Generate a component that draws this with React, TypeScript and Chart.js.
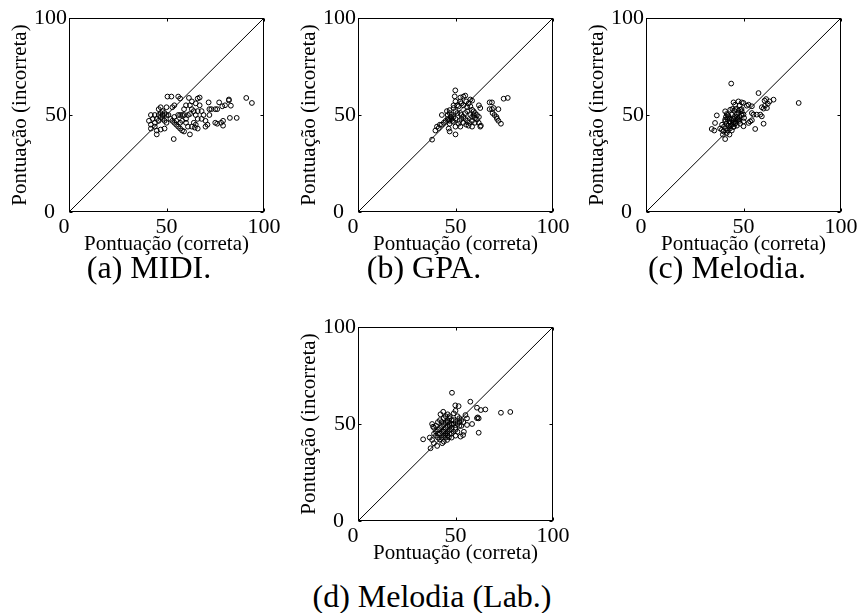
import React, { useEffect, useRef } from "react";
import { Chart, registerables } from "chart.js";

Chart.register(...registerables);

// ---------- data ----------
const axisTicks = [0, 50, 100];
const xTitle = "Pontuação (correta)";
const yTitle = "Pontuação (incorreta)";
const diagonalX = [0, 100];
const diagonalY = [0, 100];

const midiPoints = [
  [42, 50], [44, 50], [46, 50], [48, 50], [50, 50], [41, 47], [42, 45], [43, 48], [44, 46], [45, 48],
  [46, 47], [47, 49], [48, 48], [49, 47], [47, 51], [46, 53], [47, 54], [48, 52], [44, 44], [42, 43],
  [45, 42], [47, 42.5], [49, 43], [50, 46], [49, 51], [51, 50], [50, 54], [45, 40],
  [50.5, 59.5], [52.5, 59.5], [56, 59.5], [57, 58.5], [53, 54], [54, 55], [52, 48], [53, 47], [54, 46],
  [55, 45], [56, 44], [57, 43], [58, 42], [59, 41.5], [53.7, 37.6], [56, 50], [57, 50], [58, 50],
  [59, 50], [60, 48], [61, 50], [62, 50.5], [60, 46], [61, 44], [62, 40], [61.5, 58.8], [62, 55],
  [63, 53], [63, 57], [64, 52], [64, 46], [63, 44], [64.5, 43.5], [66, 43], [66, 48], [66, 52],
  [67, 55], [66, 58.5], [67, 59], [65, 50], [68, 52], [68, 48], [69, 50], [70, 47], [70, 44], [71, 45],
  [71.6, 56.5], [72, 50], [72, 53], [73, 53], [75, 53], [76, 53], [75, 46], [76, 45.5], [78, 46],
  [79, 47], [79, 44.5], [77, 56.5], [78.6, 54.5], [80, 55], [82, 57.5], [82, 58], [83, 54.8],
  [82.5, 48.5], [86, 48.5], [90.9, 58.8], [93.8, 56.2], [57, 46], [58, 47], [55, 47], [54, 49],
  [59, 53], [60, 55], [65, 56], [65, 45],
];

const gpaPoints = [
  [49.9, 62.7], [49.6, 59.6], [52.5, 59], [54, 59.5], [55, 60], [57.6, 58], [58.5, 57.4], [55.5, 57],
  [56.7, 56], [52.5, 57], [53, 56], [50.8, 55], [51.6, 54.5], [54, 55], [56, 54], [57.6, 54.5], [62, 55],
  [62.7, 53.6], [49, 53.6], [50, 52], [45.6, 52], [43, 50], [46, 50], [47, 51], [48, 50], [49, 49],
  [46, 48], [47, 47], [48, 48], [49, 46.5], [47.5, 49], [46.5, 47.5], [48.5, 47], [50, 48], [47, 45.5],
  [52.5, 51], [53, 50], [54, 49], [55, 48], [57.6, 50], [58.5, 49], [59.3, 50], [60, 48.5], [61, 50],
  [61, 47.7], [62, 49], [54, 46], [55.5, 45], [56.7, 44.5], [58.5, 44], [51.6, 45.5], [50, 44],
  [52.5, 44], [50, 40], [47, 41.5], [46.5, 43], [43, 45], [40.5, 44], [41.4, 43.3], [39.7, 42],
  [38, 37.3], [44, 46], [42, 45], [58.5, 47], [60, 46], [61.9, 46], [62.7, 44], [63, 44.5], [67.5, 56.5],
  [68.7, 56.5], [67.5, 53], [68.7, 53], [69.6, 53.6], [72, 53], [69, 51], [70, 50], [71, 49], [71.3, 48],
  [72, 47], [73.3, 45.5], [74.7, 58.4], [76.8, 58.8], [58.5, 52.7], [59.3, 51.9], [60, 51], [56, 52],
  [55, 51], [51, 51], [53, 48], [52, 47], [56, 47], [57, 46], [49, 55], [50, 57], [47, 52.5], [45, 47],
];

const melodiaPoints = [
  [43.7, 66.2], [57.7, 61.3], [61.6, 58.2], [60.8, 57.4], [65.4, 57.9], [63.4, 57], [62.5, 55.8],
  [59.4, 54], [60.3, 53.3], [62, 53.6], [61, 54.8], [58.6, 50.2], [59.4, 49.3], [56.8, 50.2], [78.3, 56.2],
  [60.3, 45.5], [56, 42.8], [53.4, 46.7], [52.6, 45.9], [54.3, 47.3], [55.1, 50.2], [54.3, 51],
  [52.6, 55.3], [51.7, 54.8], [54.3, 54.5], [49.1, 56.5], [50, 56.2], [47.4, 57], [44.9, 56.5],
  [45.7, 55.3], [48.3, 52.7], [49.1, 51.9], [50, 50.2], [50.3, 48.5], [50, 46.7], [50, 44.2], [47.4, 51],
  [46.6, 49], [47.4, 47.6], [48.3, 45.5], [36.3, 49.8], [35.4, 45.9], [33.7, 42.8], [35, 42], [38.9, 42.4],
  [39.7, 41.6], [39.4, 39.9], [40.6, 37.6], [41.4, 40.7], [42.8, 39.9], [40.6, 51.9], [41.4, 50.5],
  [43.2, 52.7], [44.3, 53.1], [45.2, 52.2], [40.6, 47.6], [41.8, 47.9], [42.8, 46.7], [44, 47.6],
  [44.9, 46.2], [45.7, 45.5], [46.6, 44.5], [44.9, 43.8], [43.5, 44.5], [42.3, 44.5], [41.3, 45.5],
  [40.6, 46.7], [42.3, 49.3], [44, 50.2], [45.2, 49], [46.6, 50.5], [47.4, 52.2], [40, 44], [41, 43],
  [42, 42], [43, 43], [44, 42], [45, 48], [46, 47], [47, 48], [48, 49], [43, 48], [42, 50], [44, 45],
  [45, 44], [46, 46], [48, 47], [49, 50], [49, 53], [48, 55], [46, 53], [43, 46], [41, 49], [39, 45], [38, 43],
];

const melodiaLabPoints = [
  [48.2, 66.1], [57.6, 61.5], [61, 58.4], [63, 57.2], [65.3, 57.5], [73.3, 55.8], [78.1, 56.2],
  [49.9, 59.6], [51.6, 59.2], [61.4, 53.4], [61.9, 52.9], [61, 53], [61.9, 45.5], [58.5, 50], [55.9, 49.5],
  [54.3, 46], [53.9, 44.3], [52.6, 43.5], [55.9, 52.9], [55.1, 54.6], [43.7, 56.3], [42.3, 55], [38, 50],
  [38.5, 48.6], [33.4, 42.1], [36.8, 43], [38, 41.8], [38.9, 40.1], [40.6, 38.7], [37.2, 37.5], [43.2, 40.1],
  [44, 40.9], [45.7, 41.8], [46.6, 43.2], [49.1, 55.5], [50, 56.8], [51, 54], [52, 53], [53, 52], [54, 51],
  [52, 49], [50, 48], [49, 50], [48, 52], [47, 53], [46, 55], [45, 51], [44, 50], [43, 49], [42, 48],
  [41, 47], [40, 46], [39, 45], [40, 44], [41, 43], [42, 45], [43, 46], [44, 47], [45, 48], [46, 49],
  [47, 50], [48, 48], [47, 47], [46, 46], [45, 45], [44, 44], [43, 43], [42, 42], [46, 44], [48, 45],
  [49, 46], [50, 47], [51, 46], [50, 44], [48, 43], [47, 45], [45, 43], [44, 46], [46, 51], [47, 49],
  [48, 50], [49, 52], [50, 51], [51, 50], [52, 51], [53, 49], [40, 49], [41, 51], [42, 52], [44, 53],
  [45, 54], [46, 52], [39, 48], [41, 45], [43, 51], [47, 54],
];

const captions = ["(a) MIDI.", "(b) GPA.", "(c) Melodia.", "(d) Melodia (Lab.)"];

// ---------- layout ----------
const PAGE_W = 858;
const PAGE_H = 613;
const BOX_W = 195;
const BOX_H = 194;
const PAD_L = 69;
const PAD_T = 18;
const CANVAS_W = 290;
const CANVAS_H = 255;

const panels = [
  { points: midiPoints, boxLeft: 69, boxTop: 18, caption: captions[0], capX: 149, capY: 267 },
  { points: gpaPoints, boxLeft: 358, boxTop: 18, caption: captions[1], capX: 424, capY: 267 },
  { points: melodiaPoints, boxLeft: 646, boxTop: 18, caption: captions[2], capX: 727, capY: 267 },
  { points: melodiaLabPoints, boxLeft: 358, boxTop: 327, caption: captions[3], capX: 432, capY: 596 },
];

const framePlugin = {
  id: "frameTicks",
  afterDraw(chart: any) {
    const { ctx, chartArea: a, scales } = chart;
    const xs = scales.x;
    const ys = scales.y;
    ctx.save();
    ctx.strokeStyle = "#000";
    ctx.lineWidth = 1;
    const L = Math.round(a.left) + 0.5;
    const R = Math.round(a.right) - 0.5;
    const T = Math.round(a.top) + 0.5;
    const B = Math.round(a.bottom) - 0.5;
    ctx.strokeRect(L, T, R - L, B - T);
    ctx.beginPath();
    for (const v of axisTicks) {
      const px = Math.round(xs.getPixelForValue(v)) + 0.5;
      const py = Math.round(ys.getPixelForValue(v)) + 0.5;
      ctx.moveTo(px, B);
      ctx.lineTo(px, B - 3);
      ctx.moveTo(px, T);
      ctx.lineTo(px, T + 3);
      ctx.moveTo(L, py);
      ctx.lineTo(L + 3, py);
      ctx.moveTo(R, py);
      ctx.lineTo(R - 3, py);
    }
    ctx.stroke();

    ctx.fillStyle = "#000";
    ctx.font = '22px "Liberation Serif"';
    ctx.textBaseline = "middle";
    for (const v of axisTicks) {
      ctx.textAlign = "right";
      ctx.fillText(String(v), v === 0 ? a.left - 14 : a.left - 2, ys.getPixelForValue(v));
      ctx.textAlign = "center";
      ctx.fillText(String(v), xs.getPixelForValue(v) - (v === 0 ? 5 : 0), a.bottom + 15);
    }
    ctx.font = '21px "Liberation Serif"';
    ctx.textAlign = "center";
    ctx.fillText(xTitle, (a.left + a.right) / 2, a.bottom + 32);
    ctx.translate(a.left - 49, (a.top + a.bottom) / 2);
    ctx.rotate(-Math.PI / 2);
    ctx.fillText(yTitle, 0, 0);
    ctx.restore();
  },
};

function Panel({ points, boxLeft, boxTop }: { points: number[][]; boxLeft: number; boxTop: number }) {
  const ref = useRef<HTMLCanvasElement | null>(null);
  const left = boxLeft - PAD_L;
  const top = boxTop - PAD_T;
  const width = Math.min(CANVAS_W, PAGE_W - left);
  const height = CANVAS_H;
  const padR = width - (PAD_L + BOX_W);
  const padB = height - (PAD_T + BOX_H);

  useEffect(() => {
    if (!ref.current) return;
    const chart = new Chart(ref.current, {
      type: "scatter",
      data: {
        datasets: [
          {
            data: diagonalX.map((x, i) => ({ x, y: diagonalY[i] })),
            showLine: true,
            borderColor: "#000",
            borderWidth: 1,
            pointRadius: 0,
            fill: false,
          },
          {
            data: points.map(([x, y]) => ({ x, y })),
            pointStyle: "circle",
            pointRadius: 2.4,
            pointBorderWidth: 1,
            pointBorderColor: "#000",
            pointBackgroundColor: "rgba(0,0,0,0)",
            borderColor: "#000",
            backgroundColor: "rgba(0,0,0,0)",
          },
        ],
      },
      options: {
        responsive: false,
        animation: false,
        devicePixelRatio: 1,
        layout: { padding: { left: PAD_L, top: PAD_T, right: padR, bottom: padB } },
        scales: {
          x: { type: "linear", min: 0, max: 100, display: false },
          y: { type: "linear", min: 0, max: 100, display: false },
        },
        plugins: { legend: { display: false }, tooltip: { enabled: false } },
        events: [],
      },
      plugins: [framePlugin],
    } as any);
    return () => chart.destroy();
  }, [points]);

  return (
    <canvas
      ref={ref}
      width={width}
      height={height}
      style={{ position: "absolute", left, top, width, height }}
    />
  );
}

export default function App() {
  return (
    <div
      style={{
        position: "fixed",
        left: 0,
        top: 0,
        width: PAGE_W,
        height: PAGE_H,
        background: "#fff",
        overflow: "hidden",
      }}
    >
      {panels.map((p, i) => (
        <Panel key={"p" + i} points={p.points} boxLeft={p.boxLeft} boxTop={p.boxTop} />
      ))}
      {panels.map((p, i) => (
        <div
          key={"c" + i}
          style={{
            position: "absolute",
            left: p.capX,
            top: p.capY,
            transform: "translate(-50%, -50%)",
            fontFamily: '"Liberation Serif", serif',
            fontSize: 32,
            lineHeight: 1,
            whiteSpace: "nowrap",
            color: "#000",
          }}
        >
          {p.caption}
        </div>
      ))}
    </div>
  );
}
